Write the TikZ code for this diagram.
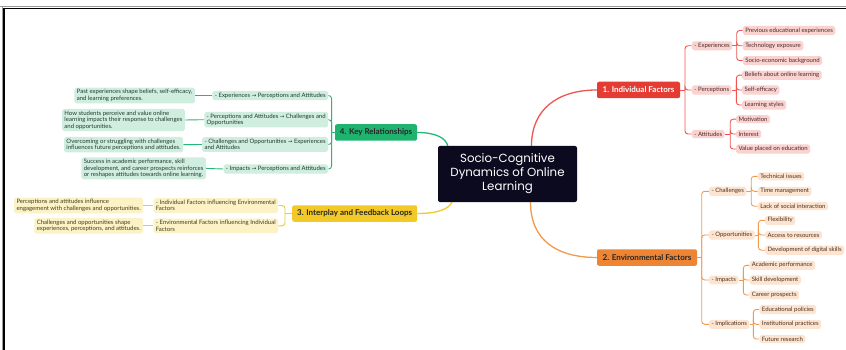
\documentclass[tikz,border=0pt]{standalone}
\usepackage{fontspec}
\setmainfont{Lato}
\newfontfamily\titlefont{Poppins}
\newfontfamily\arrowfont{DejaVu Sans}
\usetikzlibrary{backgrounds}
\newcommand{\arr}{{\arrowfont\fontsize{5.4}{6}\selectfont →}}
\definecolor{centerC}{HTML}{0C0A1F}
\definecolor{redM}{HTML}{E43B33}
\definecolor{redL}{HTML}{FAD3D1}
\definecolor{redLine}{HTML}{EE5550}
\definecolor{redT}{HTML}{4A2826}
\definecolor{orM}{HTML}{EE8534}
\definecolor{orL}{HTML}{FCE4D1}
\definecolor{orLine}{HTML}{F29A4C}
\definecolor{orT}{HTML}{4A3120}
\definecolor{grM}{HTML}{1EB46F}
\definecolor{grL}{HTML}{D0EEDF}
\definecolor{grLine}{HTML}{25B87A}
\definecolor{grT}{HTML}{203A2E}
\definecolor{yeM}{HTML}{F3C928}
\definecolor{yeL}{HTML}{FBF2C6}
\definecolor{yeLine}{HTML}{EFCB30}
\definecolor{yeT}{HTML}{443C1E}
\definecolor{frameGray}{HTML}{9A9A9A}
\tikzset{
  leaf/.style={rounded corners=1.8pt, inner xsep=2.4pt, inner ysep=1.8pt,
    font=\fontsize{6}{6.5}\selectfont, align=left},
  redleaf/.style={leaf, fill=redL, text=redT},
  orleaf/.style={leaf, fill=orL, text=orT},
  grleaf/.style={leaf, fill=grL, text=grT},
  yeleaf/.style={leaf, fill=yeL, text=yeT},
  mainbox/.style={rounded corners=2pt, inner xsep=0pt, minimum height=16.5pt,
    font=\bfseries\fontsize{8}{9}\selectfont},
  branch/.style={line width=0.9pt, rounded corners=3pt},
  trunk/.style={line width=1.3pt},
}
\begin{document}
\begin{tikzpicture}[x=1pt,y=-1pt]
\useasboundingbox (0,0) rectangle (846,350);

% center
\node[fill=centerC, text=white, rounded corners=2pt, minimum width=139pt, minimum height=56pt,
  align=center, font=\titlefont\fontsize{11.8}{14}\selectfont] (center) at (507.5,174)
  {Socio-Cognitive\\Dynamics of Online\\Learning};

% ===== 1. Individual Factors =====
\node[mainbox, fill=redM, text=white, minimum width=83pt] (ind) at (638.5,90) {1. Individual Factors};
\node[redleaf, anchor=west] (exp) at (691.7,45.8) {- Experiences};
\node[redleaf, anchor=west] (per) at (691.7,90) {- Perceptions};
\node[redleaf, anchor=west] (att) at (691.7,134) {- Attitudes};
\node[redleaf, anchor=west] (exp1) at (742.7,30.5) {Previous educational experiences};
\node[redleaf, anchor=west] (exp2) at (742.7,45.8) {Technology exposure};
\node[redleaf, anchor=west] (exp3) at (742.7,60.6) {Socio-economic background};
\node[redleaf, anchor=west] (per1) at (742,75.2) {Beliefs about online learning};
\node[redleaf, anchor=west] (per2) at (742,90) {Self-efficacy};
\node[redleaf, anchor=west] (per3) at (742,105) {Learning styles};
\node[redleaf, anchor=west] (att1) at (736,119.2) {Motivation};
\node[redleaf, anchor=west] (att2) at (736,134) {Interest};
\node[redleaf, anchor=west] (att3) at (736,149) {Value placed on education};
\coordinate (tind) at (685,90);
\coordinate (texp) at (736.7,45.8);
\coordinate (tper) at (736.3,90);
\coordinate (tatt) at (730.2,134);

% ===== 2. Environmental Factors =====
\node[mainbox, fill=orM, text=black!85, minimum width=100pt] (env) at (647,257.5) {2. Environmental Factors};
\node[orleaf, anchor=west] (cha) at (709,191.3) {- Challenges};
\node[orleaf, anchor=west] (opp) at (709,235) {- Opportunities};
\node[orleaf, anchor=west] (imp) at (709,280) {- Impacts};
\node[orleaf, anchor=west] (iml) at (709,324.3) {- Implications};
\node[orleaf, anchor=west] (cha1) at (757.7,176.3) {Technical issues};
\node[orleaf, anchor=west] (cha2) at (757.7,191.3) {Time management};
\node[orleaf, anchor=west] (cha3) at (757.7,206.2) {Lack of social interaction};
\node[orleaf, anchor=west] (opp1) at (765,220.3) {Flexibility};
\node[orleaf, anchor=west] (opp2) at (765,235) {Access to resources};
\node[orleaf, anchor=west] (opp3) at (765,250.2) {Development of digital skills};
\node[orleaf, anchor=west] (imp1) at (749.3,265.3) {Academic performance};
\node[orleaf, anchor=west] (imp2) at (749.3,280) {Skill development};
\node[orleaf, anchor=west] (imp3) at (749.3,295) {Career prospects};
\node[orleaf, anchor=west] (iml1) at (759.3,309.5) {Educational policies};
\node[orleaf, anchor=west] (iml2) at (759.3,324.3) {Institutional practices};
\node[orleaf, anchor=west] (iml3) at (759.3,339) {Future research};
\coordinate (tenv) at (701.7,257.5);
\coordinate (tcha) at (751.2,191.3);
\coordinate (topp) at (758.4,235);
\coordinate (timp) at (743.3,280);
\coordinate (timl) at (753.3,324.3);

% ===== 4. Key Relationships =====
\node[mainbox, fill=grM, text=black!85, minimum width=82pt] (key) at (376,132.5) {4. Key Relationships};
\node[grleaf, anchor=east] (k1) at (328.3,95.5) {- Experiences \arr{} Perceptions and Attitudes};
\node[grleaf, anchor=east] (k2) at (328.3,119.7) {- Perceptions and Attitudes \arr{} Challenges and\\Opportunities};
\node[grleaf, anchor=east] (k3) at (328.3,144.5) {- Challenges and Opportunities \arr{} Experiences\\and Attitudes};
\node[grleaf, anchor=east] (k4) at (328.3,169) {- Impacts \arr{} Perceptions and Attitudes};
\node[grleaf, anchor=east] (g1) at (195,95.5) {Past experiences shape beliefs, self-efficacy,\\and learning preferences.};
\node[grleaf, anchor=east] (g2) at (185,120) {How students perceive and value online\\learning impacts their response to challenges\\and opportunities.};
\node[grleaf, anchor=east] (g3) at (183.3,144.7) {Overcoming or struggling with challenges\\influences future perceptions and attitudes.};
\node[grleaf, anchor=east] (g4) at (206,168.4) {Success in academic performance, skill\\development, and career prospects reinforces\\or reshapes attitudes towards online learning.};
\coordinate (tkey) at (331.6,132.5);

% ===== 3. Interplay and Feedback Loops =====
\node[mainbox, fill=yeM, text=black!85, minimum width=125pt] (int) at (354.7,213.5) {3. Interplay and Feedback Loops};
\node[yeleaf, anchor=east] (y1) at (278.3,205.5) {- Individual Factors influencing Environmental\\Factors};
\node[yeleaf, anchor=east] (y2) at (278.3,225.8) {- Environmental Factors influencing Individual\\Factors};
\node[yeleaf, anchor=east] (yl1) at (143.3,205.5) {Perceptions and attitudes influence\\engagement with challenges and opportunities.};
\node[yeleaf, anchor=east] (yl2) at (143.3,225.8) {Challenges and opportunities shape\\experiences, perceptions, and attitudes.};
\coordinate (tint) at (285,213.5);

% ===== background + connectors =====
\begin{scope}[on background layer]
  \fill[white] (0,0) rectangle (846,350);
  % frame
  \draw[frameGray, line width=1.2pt] (0,6.6) -- (846,6.6);
  \draw[frameGray, line width=1pt] (2.4,6.6) -- (2.4,350);
  \draw[black, line width=1.1pt] (4,8.4) -- (846,8.4);
  \draw[black, line width=1.1pt] (4,8.4) -- (4,350);
  % main curves
  \draw[trunk, redLine] ([xshift=24pt]center.north) .. controls +(0,-36) and +(-40,0) .. (ind.west);
  \draw[trunk, orLine] ([xshift=23pt]center.south) .. controls +(0,38) and +(-40,0) .. (env.west);
  \draw[trunk, grLine] (key.east) .. controls +(18,0) and +(-2,-8) .. ([xshift=10pt]center.north west);
  \draw[trunk, yeLine] (int.east) .. controls +(20,0) and +(-3,7) .. ([xshift=14pt]center.south west);
  % red tree
  \draw[branch, redLine] (ind.east) -- (tind);
  \foreach \c in {exp,per,att} \draw[branch, redLine] (tind) |- (\c.west);
  \draw[branch, redLine] (exp.east) -- (texp);
  \foreach \c in {exp1,exp2,exp3} \draw[branch, redLine] (texp) |- (\c.west);
  \draw[branch, redLine] (per.east) -- (tper);
  \foreach \c in {per1,per2,per3} \draw[branch, redLine] (tper) |- (\c.west);
  \draw[branch, redLine] (att.east) -- (tatt);
  \foreach \c in {att1,att2,att3} \draw[branch, redLine] (tatt) |- (\c.west);
  % orange tree
  \draw[branch, orLine] (env.east) -- (tenv);
  \foreach \c in {cha,opp,imp,iml} \draw[branch, orLine] (tenv) |- (\c.west);
  \draw[branch, orLine] (cha.east) -- (tcha);
  \foreach \c in {cha1,cha2,cha3} \draw[branch, orLine] (tcha) |- (\c.west);
  \draw[branch, orLine] (opp.east) -- (topp);
  \foreach \c in {opp1,opp2,opp3} \draw[branch, orLine] (topp) |- (\c.west);
  \draw[branch, orLine] (imp.east) -- (timp);
  \foreach \c in {imp1,imp2,imp3} \draw[branch, orLine] (timp) |- (\c.west);
  \draw[branch, orLine] (iml.east) -- (timl);
  \foreach \c in {iml1,iml2,iml3} \draw[branch, orLine] (timl) |- (\c.west);
  % green tree
  \draw[branch, grLine] (key.west) -- (tkey);
  \foreach \c in {k1,k2,k3,k4} \draw[branch, grLine] (tkey) |- (\c.east);
  \draw[branch, grLine] (k1.west) -- (g1.east);
  \draw[branch, grLine] (k2.west) -- (g2.east);
  \draw[branch, grLine] (k3.west) -- (g3.east);
  \draw[branch, grLine] (k4.west) -- (g4.east);
  % yellow tree
  \draw[branch, yeLine] (int.west) -- (tint);
  \foreach \c in {y1,y2} \draw[branch, yeLine] (tint) |- (\c.east);
  \draw[branch, yeLine] (y1.west) -- (yl1.east);
  \draw[branch, yeLine] (y2.west) -- (yl2.east);
\end{scope}
\end{tikzpicture}
\end{document}
